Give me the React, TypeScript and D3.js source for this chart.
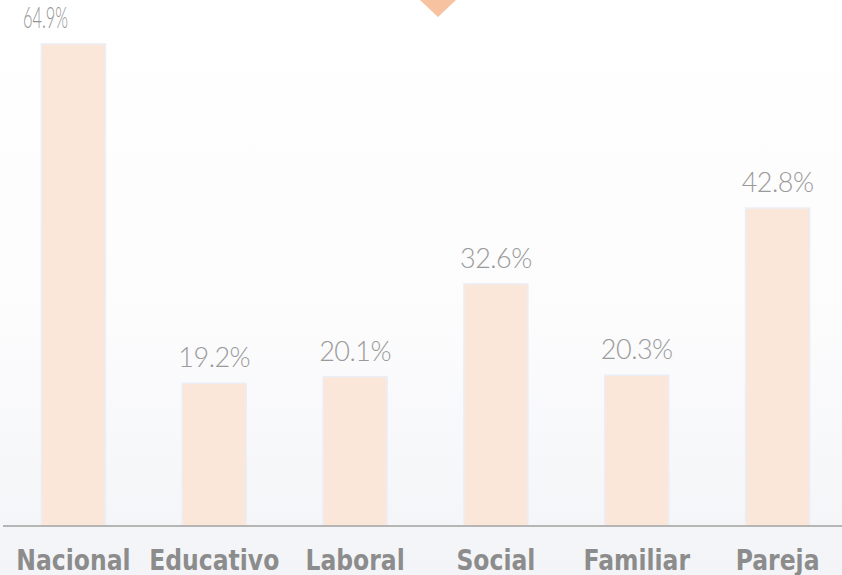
import React from "react";
import * as d3 from "d3";

const categories = ["Nacional", "Educativo", "Laboral", "Social", "Familiar", "Pareja"];
const values = [64.9, 19.2, 20.1, 32.6, 20.3, 42.8];
const valueLabels = ["64.9%", "19.2%", "20.1%", "32.6%", "20.3%", "42.8%"];

const W = 842;
const H = 575;
const baseY = 526;

export default function App() {
  const x = d3
    .scaleBand<string>()
    .domain(categories)
    .range([3, 848])
    .paddingInner(0.545)
    .paddingOuter(0.2725);
  const y = d3.scaleLinear().domain([0, 70]).range([baseY, 6]);

  return (
    <svg
      width={W}
      height={H}
      style={{ position: "absolute", left: 0, top: 0, display: "block" }}
    >
      <defs>
        <linearGradient id="bg" x1="0" y1="0" x2="0" y2="1">
          <stop offset="0" stopColor="#ffffff" />
          <stop offset="0.55" stopColor="#fcfcfd" />
          <stop offset="1" stopColor="#f3f4f7" />
        </linearGradient>
      </defs>
      <rect x={0} y={0} width={W} height={H} fill="url(#bg)" />
      <polygon points="420,0 456,0 438,17" fill="#f7c29f" />
      {categories.map((c, i) => {
        const bx = x(c)!;
        const bw = x.bandwidth();
        const top = y(values[i]);
        const cx = bx + bw / 2;
        return (
          <g key={c}>
            <rect
              x={bx}
              y={top}
              width={bw}
              height={baseY - top}
              fill="#fbe6da"
              stroke="#ebeef6"
              strokeWidth={1.5}
            />
            {i === 0 ? (
              <text
                x={23}
                y={28}
                textLength={45}
                lengthAdjust="spacingAndGlyphs"
                fontFamily="Lato, 'DejaVu Sans', sans-serif"
                fontWeight={300}
                fontSize={29}
                fill="#959595"
              >
                {valueLabels[i]}
              </text>
            ) : (
              <text
                x={cx}
                y={top - 16}
                textAnchor="middle"
                fontFamily="Lato, 'DejaVu Sans', sans-serif"
                fontWeight={300}
                fontSize={27}
                letterSpacing={-0.5}
                fill="#9a9a9a"
              >
                {valueLabels[i]}
              </text>
            )}
            <text
              transform={`translate(${cx},570) scale(1,1.18)`}
              textAnchor="middle"
              fontFamily="'DejaVu Sans', sans-serif"
              fontWeight="bold"
              fontSize={23.5}
              fill="#8c8c8c"
            >
              {c}
            </text>
          </g>
        );
      })}
      <line x1={3} x2={W} y1={baseY} y2={baseY} stroke="#b5b5b5" strokeWidth={2} />
    </svg>
  );
}
